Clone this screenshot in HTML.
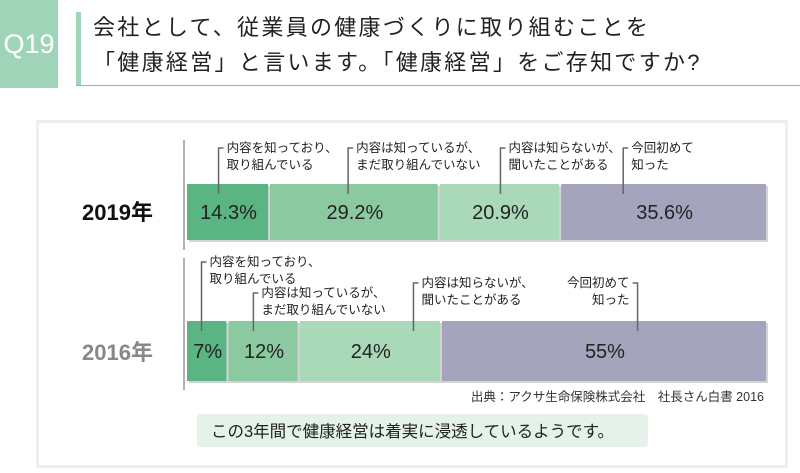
<!DOCTYPE html>
<html><head><meta charset="utf-8">
<style>
body{margin:0;width:800px;height:473px;background:#fff;overflow:hidden;font-family:"Liberation Sans","Noto Sans CJK JP",sans-serif;position:relative}
.q{position:absolute;left:0;top:0;width:58px;height:88px;background:#9fd4b8;color:#fff;font-size:27px;line-height:88px;text-align:center}
.vb{position:absolute;left:76px;top:12px;width:5px;height:74px;background:#9fd4b8}
.hl{position:absolute;left:76px;top:85px;width:724px;height:1px;background:#aaa}
.title{position:absolute;left:93px;top:10px;font-size:22px;letter-spacing:2.3px;line-height:35px;color:#222}
.panel{position:absolute;left:36px;top:120px;width:752px;height:348px;border:3px solid #eee;box-sizing:border-box}
</style></head><body>
<div class="q">Q19</div>
<div class="vb"></div>
<div class="hl"></div>
<div class="title">会社として、従業員の健康づくりに取り組むことを<br>「健康経営」と言います。「健康経営」をご存知ですか?</div>
<div class="panel"></div>
<svg id="chart" width="800" height="473" style="position:absolute;left:0;top:0"></svg>
<script>
const years=["2019年","2016年"];
const values2019=[14.3,29.2,20.9,35.6];
const values2016=[7,12,24,55];
const printed2019=["14.3%","29.2%","20.9%","35.6%"];
const printed2016=["7%","12%","24%","55%"];
const categories=[["内容を知っており、","取り組んでいる"],["内容は知っているが、","まだ取り組んでいない"],["内容は知らないが、","聞いたことがある"],["今回初めて","知った"]];
const colors=["#5bb583","#8bcaa0","#a9d9b9","#a4a4bc"];
const svg=document.getElementById('chart');
const NS="http://www.w3.org/2000/svg";
const x0=187,x1=768;
function mk(t,a){const e=document.createElementNS(NS,t);for(const k in a)e.setAttribute(k,a[k]);svg.appendChild(e);return e;}
const rows=[
 {vals:values2019,lab:printed2019,y:184,h:56,yc:"#111",ly:212,axisTop:140,axisBot:250,
  tops:[148,148,148,148],right:[false,false,false,false],frac:[0.38,0.46,0.5,0.3]},
 {vals:values2016,lab:printed2016,y:321,h:60,yc:"#888",ly:352,axisTop:258,axisBot:390,
  tops:[262,293,283,283],right:[false,false,false,true],frac:[0.35,0.35,0.8,0.6]}
];
rows.forEach((r,ri)=>{
 const total=r.vals.reduce((s,v)=>s+v,0);
 const xs=v=>v/total*(x1-x0);
 let a=mk('line',{x1:184,x2:184,y1:r.axisTop,y2:r.axisBot,stroke:'#666','stroke-width':1});
 
 let yt=mk('text',{x:82,y:r.ly+8,'font-size':22,'font-weight':'bold',fill:r.yc});
 yt.textContent=years[ri];
 
 let sh=mk('rect',{x:x0+2,y:r.y+2,width:x1-x0-2,height:r.h,fill:'#d4d4d4'});
 
 let cx=x0;
 r.vals.forEach((v,i)=>{
  const w=xs(v);
  const b=mk('rect',{x:cx,y:r.y,width:Math.max(0,w-2),height:r.h,fill:colors[i]});
  
  
  const t=mk('text',{x:cx+w/2,y:r.y+r.h/2+7,'font-size':20,'text-anchor':'middle',fill:'#222'});
  t.textContent=r.lab[i];
  
  
  const lx=cx+w*r.frac[i];
  const top=r.tops[i];
  const dir=r.right[i]?-1:1;
  const ld=mk('polyline',{points:`${lx},${r.y+10} ${lx},${top} ${lx+5*dir},${top}`,fill:'none',stroke:'#666','stroke-width':1.5});
  
  
  categories[i].forEach((s,k)=>{
   const ct=mk('text',{x:lx+8*dir,y:top+4+k*17,'font-size':12.5,fill:'#222','text-anchor':dir>0?'start':'end'});
   ct.textContent=s;
   
   
  });
  cx+=w;
 });
});
const src=mk('text',{x:764,y:401,'font-size':12.5,'text-anchor':'end',fill:'#333'});
src.textContent="出典：アクサ生命保険株式会社　社長さん白書 2016";


const nb=mk('rect',{x:197,y:414,width:451,height:33,rx:3,fill:'#e4f2e9'});


const nt=mk('text',{x:211,y:437,'font-size':16.5,fill:'#222'});
nt.textContent="この3年間で健康経営は着実に浸透しているようです。";


</script>
</body></html>
